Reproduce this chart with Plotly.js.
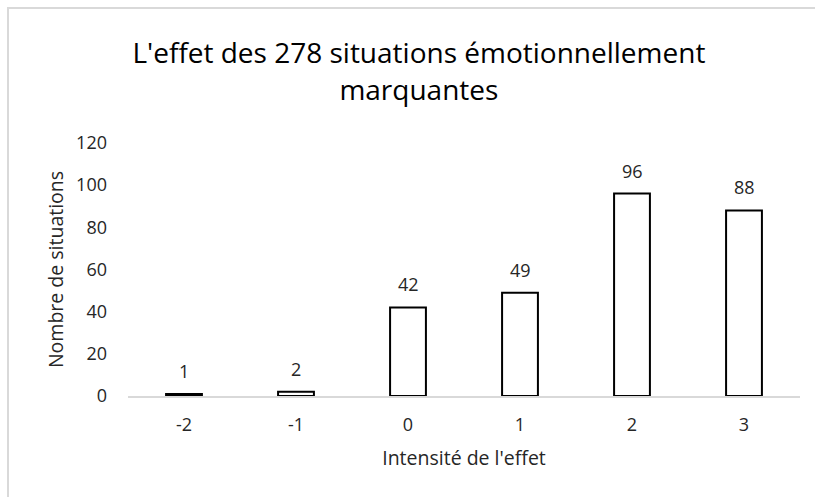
<!DOCTYPE html>
<html>
<head>
<meta charset="utf-8">
<script src="https://cdn.plot.ly/plotly-3.0.1.min.js"></script>
<style>
html,body{margin:0;padding:0;background:#fff;overflow:hidden;}
#wrap{position:relative;width:815px;height:497px;}
#chart{width:815px;height:497px;}
#frame{position:absolute;left:7px;top:7px;width:840px;height:540px;border:2px solid #d9d9d9;pointer-events:none;box-sizing:border-box;}
</style>
</head>
<body>
<div id="wrap"><div id="chart"></div><div id="frame"></div></div>
<script>
const categories = ["-2", "-1", "0", "1", "2", "3"];
const values = [1, 2, 42, 49, 96, 88];
const yTicks = [0, 20, 40, 60, 80, 100, 120];

const FONT = "'Open Sans', sans-serif";
const TXT = "#262626";

const xs = categories.map(Number);

const trace = {
  type: "bar",
  x: xs,
  y: values,
  width: 0.32,
  marker: {color: "#ffffff", line: {color: "#000000", width: 2}},
  hoverinfo: "none"
};

const labels = xs.map((x, i) => ({
  x: x, y: values[i], xref: "x", yref: "y",
  text: String(values[i]),
  showarrow: false,
  yanchor: "middle",
  yshift: 23,
  font: {family: FONT, size: 18, color: TXT}
}));

const layout = {
  width: 815,
  height: 497,
  margin: {l: 128, r: 15, t: 143, b: 101},
  paper_bgcolor: "#ffffff",
  plot_bgcolor: "#ffffff",
  showlegend: false,
  annotations: labels,
  title: {
    text: "L'effet des 278 situations émotionnellement<br>marquantes",
    font: {family: FONT, size: 28, color: "#000000"},
    xref: "container",
    x: 0.514, xanchor: "center",
    y: 0.873, yanchor: "middle"
  },
  xaxis: {
    type: "linear",
    range: [-2.5, 3.5],
    tickvals: xs,
    ticktext: categories,
    showgrid: false,
    zeroline: false,
    showline: true,
    linecolor: "#d9d9d9",
    linewidth: 1.5,
    ticks: "",
    tickfont: {family: FONT, size: 18, color: TXT},
    ticklabelstandoff: 12,
    title: {text: "Intensité de l'effet", font: {family: FONT, size: 19.5, color: TXT}, standoff: 16}
  },
  yaxis: {
    range: [0, 120],
    tickvals: yTicks,
    ticktext: yTicks.map(String),
    showgrid: false,
    zeroline: false,
    showline: false,
    ticks: "",
    tickfont: {family: FONT, size: 18, color: TXT},
    ticklabelstandoff: 20,
    title: {text: "Nombre de situations", font: {family: FONT, size: 19.5, color: TXT}, standoff: 7}
  }
};

Plotly.newPlot("chart", [trace], layout, {displayModeBar: false, staticPlot: true});
</script>
</body>
</html>
